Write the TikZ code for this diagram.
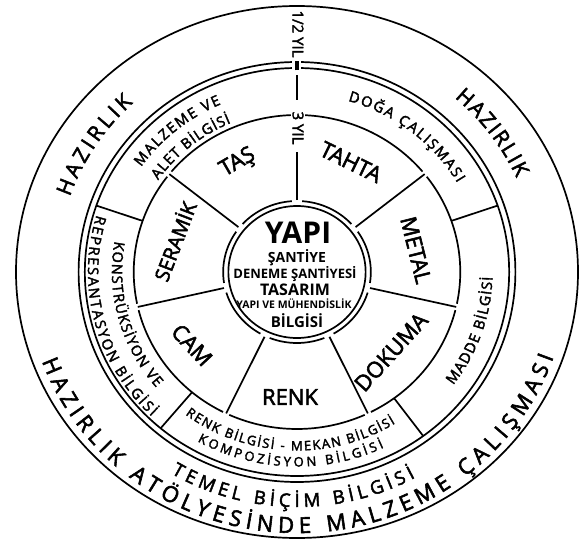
\documentclass[tikz,border=0pt]{standalone}
\usepackage{fontspec}
\setmainfont{Open Sans}
\newfontfamily\semi[FakeBold=2.5]{Open Sans}
\usetikzlibrary{decorations.text}
\newcommand\fmid{\semi\fontsize{14.5}{14.5}\selectfont}
\newcommand\fsml{\semi\fontsize{13}{13}\selectfont}
\newcommand\fhaz{\semi\fontsize{21}{21}\selectfont}
\newcommand\fbig{\semi\fontsize{22}{22}\selectfont}
\newcommand\ftemel{\semi\fontsize{18.5}{18.5}\selectfont}
\tikzset{
  ring/.style={line width=1.7pt},
  spoke/.style={line width=1.7pt},
  wlabel/.style={font=\semi\fontsize{22}{22}\selectfont, inner sep=0pt},
  ctext/.style={inner sep=0pt, anchor=base},
  curvetext/.style={decorate, decoration={text along path, text align={fit to path}, text={#1}}},
}
\begin{document}
\begin{tikzpicture}[x=1.04pt, y=1pt]
\useasboundingbox (-297pt,-272pt) rectangle (284pt,272pt);
% outer circle
\draw[ring] (0,0) ellipse[x radius=281pt, y radius=266pt];
% double ring
\draw[ring] (0,0) circle[radius=210];
\draw[ring] (0,0) circle[radius=204];
% R3 arcs between workshop spokes
\foreach \k in {0,...,6}{
  \pgfmathsetmacro\s{90+51.4286*\k+1.2}
  \pgfmathsetmacro\e{90+51.4286*(\k+1)-1.2}
  \draw[ring] (\s:157) arc[start angle=\s, end angle=\e, radius=157];
}
% centre circle: outer broken, inner full
\foreach \k in {0,...,6}{
  \pgfmathsetmacro\s{90+51.4286*\k+4}
  \pgfmathsetmacro\e{90+51.4286*(\k+1)-4}
  \draw[ring] (\s:71) arc[start angle=\s, end angle=\e, radius=71];
}
\draw[ring] (0,0) circle[radius=66];
% workshop spokes
\foreach \k in {1,...,6}{
  \pgfmathsetmacro\a{90+51.4286*\k}
  \draw[spoke] (\a:72) -- (\a:157);
}
% middle ring spokes
\foreach \a in {161,230,306.5,19}{
  \draw[spoke] (\a:157) -- (\a:204);
}
% top vertical line
\draw[spoke] (90:72) -- (90:120);
\draw[spoke] (90:172) -- (90:197);
\draw[white, line width=9pt] (90:199) -- (90:215);
\draw[line width=4.5pt] (90:201.5) -- (90:211);
\node[rotate=-90, fill=white, inner sep=1.5pt, font=\semi\fontsize{15}{15}\selectfont] (y3) at (1pt,144pt) {3 YIL};
\node[rotate=-90, inner sep=0pt, font=\semi\fontsize{15}{15}\selectfont] (y12) at (1pt,238pt) {1/2 YIL};
% centre texts
\node[ctext, font=\fontsize{30}{30}\selectfont\bfseries] (yapi) at (1pt,29pt) {YAPI};
\node[ctext, font=\fontsize{14}{14}\selectfont\bfseries] (santiye) at (0pt,10pt) {ŞANTİYE};
\node[ctext, font=\fontsize{13}{13}\selectfont\bfseries] (deneme) at (-2pt,-6pt) {DENEME ŞANTİYESİ};
\node[ctext, font=\fontsize{16}{16}\selectfont\bfseries] (tasarim) at (-2pt,-23pt) {TASARIM};
\node[ctext, font=\fontsize{10.5}{10.5}\selectfont\bfseries] (muh) at (-3pt,-36pt) {YAPI VE MÜHENDİSLİK};
\node[ctext, font=\fontsize{15}{15}\selectfont\bfseries] (bilgisi) at (0pt,-55pt) {BİLGİSİ};
% workshop labels
\node[wlabel, rotate=30] (tas) at (-59pt,109pt) {TAŞ};
\node[wlabel, rotate=-26] (tahta) at (54pt,110pt) {TAHTA};
\node[wlabel, rotate=-76] (metal) at (119pt,22pt) {METAL};
\node[wlabel, rotate=48] (dokuma) at (94pt,-80pt) {DOKUMA};
\node[wlabel] (renk) at (-7pt,-125pt) {RENK};
\node[wlabel, rotate=-47] (cam) at (-105pt,-73pt) {CAM};
\node[wlabel, rotate=69, font=\semi\fontsize{20}{20}\selectfont] (seramik) at (-123pt,31pt) {SERAMİK};
% middle ring texts
\path[curvetext={|\fmid|MALZEME VE}] (145:183) arc[start angle=145, end angle=113.5, radius=183];
\path[curvetext={|\fmid|ALET BİLGİSİ}] (145.5:162) arc[start angle=145.5, end angle=113, radius=162];
\path[curvetext={|\fmid|DOĞA ÇALIŞMASI}] (74:178) arc[start angle=74, end angle=30, radius=178];
\path[curvetext={|\fmid|KONSTRÜKSİYON VE}] (170:178) arc[start angle=170, end angle=220.5, radius=178];
\path[curvetext={|\fmid|REPRESANTASYON BİLGİSİ}] (163.5:201) arc[start angle=163.5, end angle=226, radius=201];
\path[curvetext={|\fmid|MADDE BİLGİSİ}] (-37:188) arc[start angle=-37, end angle=-1.5, radius=188];
\path[curvetext={|\fsml|RENK BİLGİSİ - MEKAN BİLGİSİ}] (233:178.5) arc[start angle=233, end angle=302, radius=178.5];
\path[curvetext={|\fsml|KOMPOZİSYON BİLGİSİ}] (240.5:194.5) arc[start angle=240.5, end angle=295.5, radius=194.5];
% outer ring texts
\path[curvetext={|\fhaz|HAZIRLIK}] (161:231) arc[start angle=161, end angle=133, radius=231];
\path[curvetext={|\fhaz|HAZIRLIK}] (49:231) arc[start angle=49, end angle=24, radius=231];
\path[curvetext={|\ftemel|TEMEL BİÇİM BİLGİSİ}] (239:235) arc[start angle=239, end angle=299, radius=235];
\path[curvetext={|\fbig|HAZIRLIK ATÖLYESİNDE MALZEME ÇALIŞMASI}] (200:261) arc[start angle=200, end angle=341, radius=261];
\end{tikzpicture}
\end{document}
